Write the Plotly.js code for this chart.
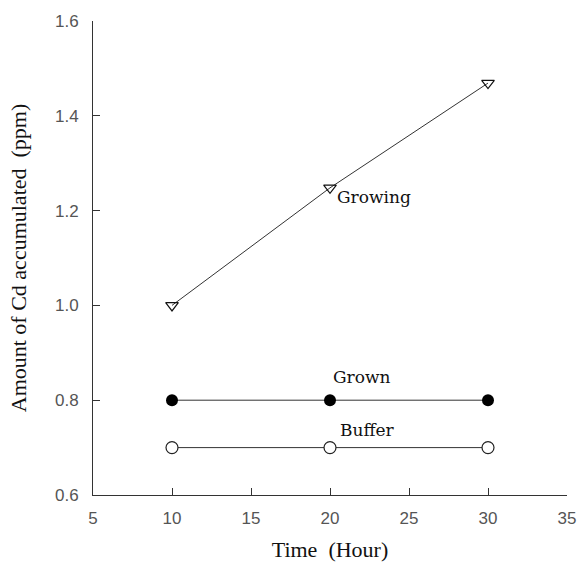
<!DOCTYPE html>
<html>
<head>
<meta charset="utf-8">
<script src="https://cdn.plot.ly/plotly-3.0.1.min.js"></script>
<style>html,body{margin:0;padding:0;background:#fff;}#chart{width:578px;height:562px;}</style>
</head>
<body>
<div id="chart"></div>
<script>
const time = [10, 20, 30];
const growing = [1.0, 1.248, 1.469];
const grown = [0.8, 0.8, 0.8];
const buffer = [0.7, 0.7, 0.7];
const seriesLabels = ["Growing", "Grown", "Buffer"];
const xTicks = [5, 10, 15, 20, 25, 30, 35];
const yTicks = [0.6, 0.8, 1.0, 1.2, 1.4, 1.6];

const lineStyle = {color: '#333', width: 1};
const traces = [
  {x: time, y: growing, mode: 'lines+markers', line: lineStyle,
   marker: {symbol: 'triangle-down-open', size: 11, color: '#111', line: {width: 1.2}}},
  {x: time, y: grown, mode: 'lines+markers', line: lineStyle,
   marker: {symbol: 'circle', size: 12, color: '#000'}},
  {x: time, y: buffer, mode: 'lines+markers', line: lineStyle,
   marker: {symbol: 'circle', size: 12, color: '#fff', line: {color: '#222', width: 1.2}}}
];

const annFont = {family: 'DejaVu Serif', size: 17, color: '#111'};
const layout = {
  width: 578, height: 562,
  margin: {l: 93, r: 11, t: 21, b: 67},
  paper_bgcolor: '#fff', plot_bgcolor: '#fff',
  showlegend: false,
  xaxis: {
    range: [5, 35], tickvals: xTicks, ticktext: xTicks.map(String),
    showgrid: false, zeroline: false, showline: true, linecolor: '#333', linewidth: 1,
    ticks: 'inside', ticklen: 7, tickcolor: '#333', ticklabelstandoff: 8,
    tickfont: {family: 'Liberation Sans', size: 17, color: '#555'},
    title: {text: 'Time&nbsp;&nbsp;(Hour)', font: {family: 'Liberation Serif', size: 22, color: '#111'}, standoff: 15}
  },
  yaxis: {
    range: [0.6, 1.6], tickvals: yTicks, ticktext: yTicks.map(v => v.toFixed(1)),
    showgrid: false, zeroline: false, showline: true, linecolor: '#333', linewidth: 1,
    ticks: 'inside', ticklen: 7, tickcolor: '#333', ticklabelstandoff: 10,
    tickfont: {family: 'Liberation Sans', size: 17, color: '#555'},
    title: {text: 'Amount of Cd accumulated&nbsp;&nbsp;(ppm)', font: {family: 'Liberation Serif', size: 22, color: '#111'}, standoff: 22}
  },
  annotations: [
    {x: 20.3, y: 1.229, text: seriesLabels[0], showarrow: false, xanchor: 'left', yanchor: 'middle', font: annFont},
    {x: 22.0, y: 0.849, text: seriesLabels[1], showarrow: false, xanchor: 'center', yanchor: 'middle', font: annFont},
    {x: 22.4, y: 0.737, text: seriesLabels[2], showarrow: false, xanchor: 'center', yanchor: 'middle', font: annFont}
  ]
};
Plotly.newPlot('chart', traces, layout, {staticPlot: true, displayModeBar: false});
</script>
</body>
</html>
